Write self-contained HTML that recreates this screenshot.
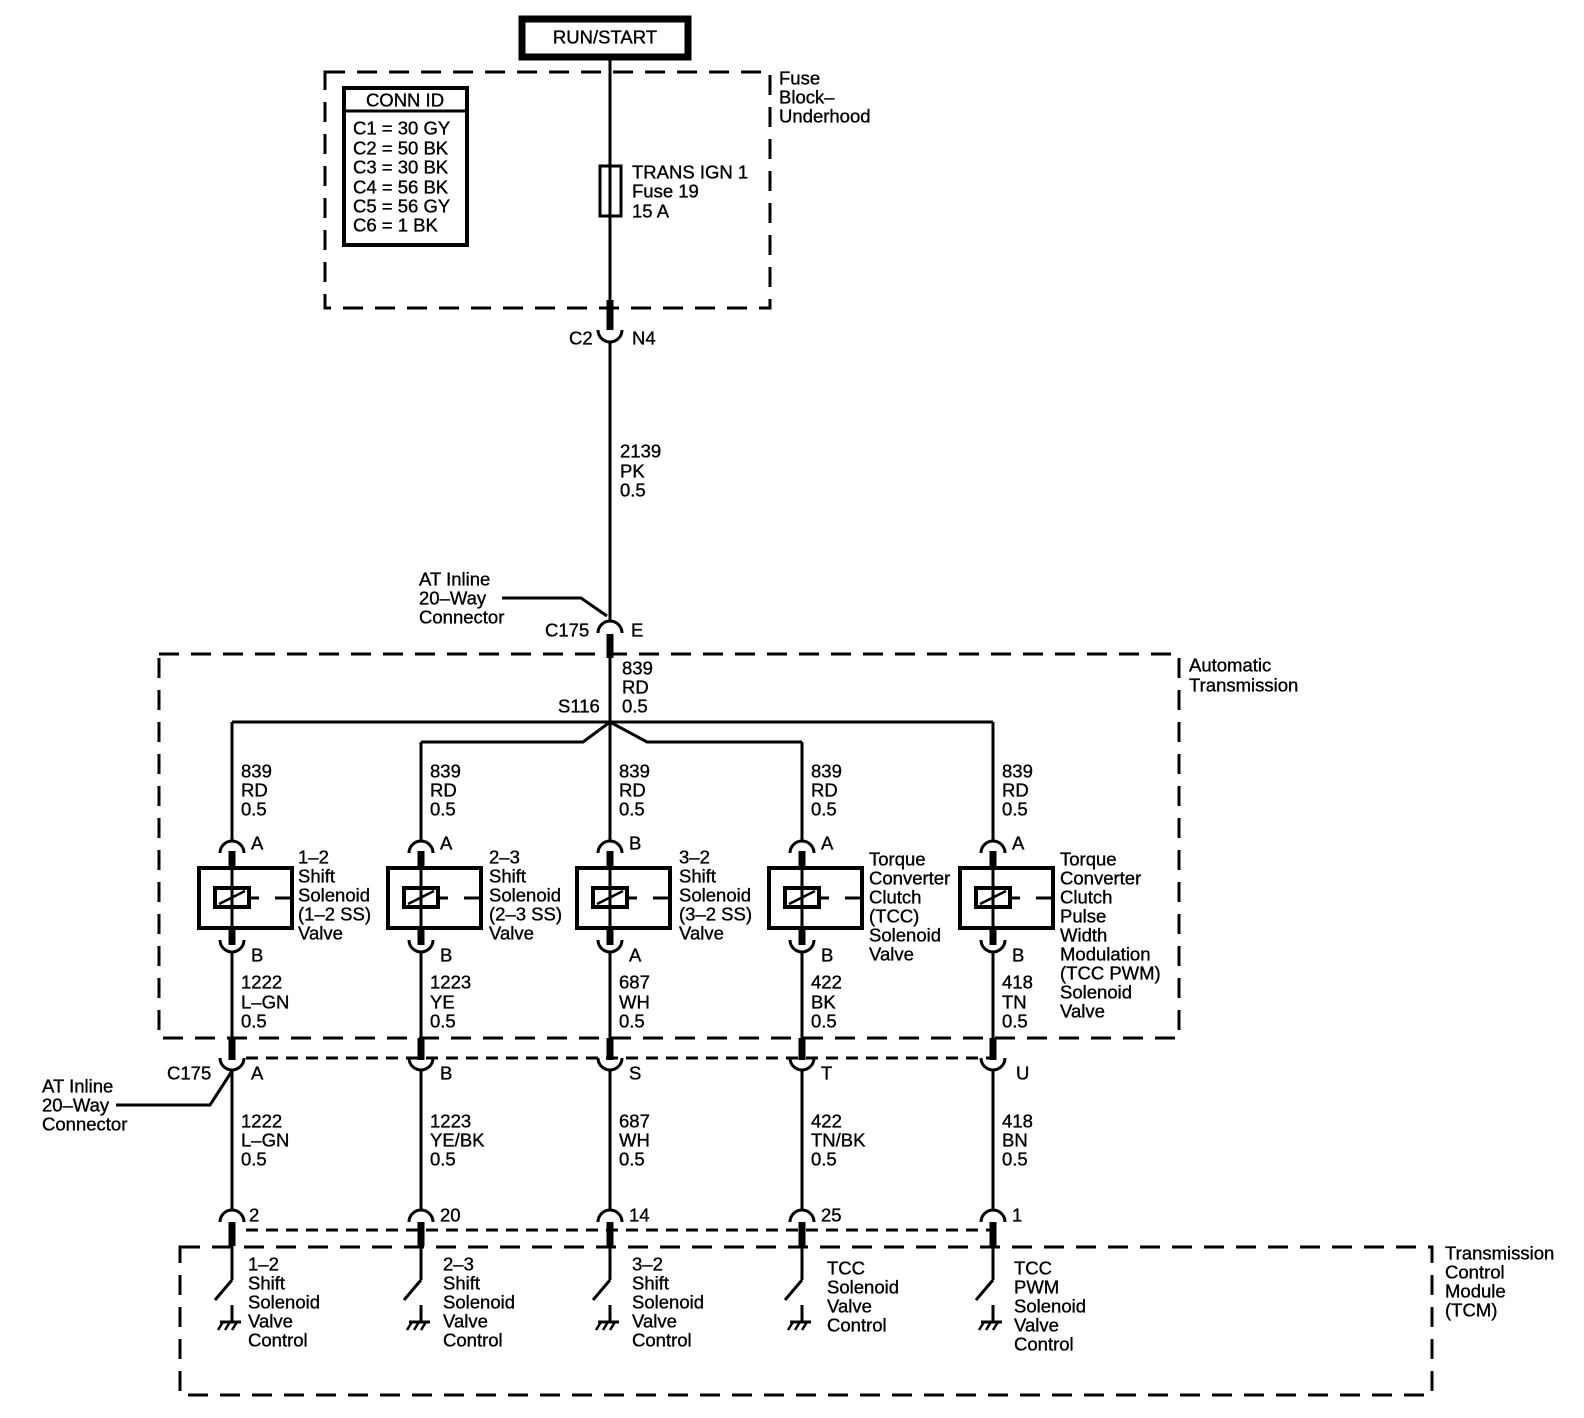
<!DOCTYPE html>
<html><head><meta charset="utf-8"><style>
html,body{margin:0;padding:0;background:#fff}
svg{display:block}
text{font-family:"Liberation Sans",Arial,sans-serif;font-size:18.5px;fill:#000;stroke:#000;stroke-width:0.35;dominant-baseline:central}
.w{stroke:#000;stroke-width:3;fill:none}
.t{stroke:#000;stroke-width:7;fill:none}
.d{stroke:#000;stroke-width:3;fill:none;stroke-dasharray:20 12}
.d2{stroke:#000;stroke-width:3;fill:none;stroke-dasharray:12 8}
</style></head><body>
<svg width="1584" height="1418" viewBox="0 0 1584 1418" xmlns="http://www.w3.org/2000/svg">
<defs>
<g id="sol">
  <rect x="-33" y="868" width="93" height="60" stroke="#000" stroke-width="4" fill="none"/>
  <rect x="-17" y="888" width="34" height="19" stroke="#000" stroke-width="4" fill="#fff"/>
  <line x1="-13" y1="904" x2="13" y2="891" stroke="#000" stroke-width="2.5"/>
  <line x1="17" y1="898" x2="27" y2="898" stroke="#000" stroke-width="3"/>
  <line x1="43" y1="898" x2="58" y2="898" stroke="#000" stroke-width="3"/>
  <line x1="0" y1="868" x2="0" y2="928" stroke="#000" stroke-width="3"/>
</g>
<g id="col">
  <path class="w" d="M-12 853 A12 12 0 0 1 12 853"/>
  <line class="w" x1="0" y1="742" x2="0" y2="841"/>
  <line class="t" x1="0" y1="851" x2="0" y2="868"/>
  <use href="#sol"/>
  <line class="t" x1="0" y1="928" x2="0" y2="945"/>
  <path class="w" d="M-12 940 A12 12 0 0 0 12 940"/>
  <line class="w" x1="0" y1="952" x2="0" y2="1038"/>
  <line class="t" x1="0" y1="1038" x2="0" y2="1060"/>
  <path class="w" d="M-12 1058 A12 12 0 0 0 12 1058"/>
  <line class="w" x1="0" y1="1070" x2="0" y2="1210"/>
  <path class="w" d="M-12 1222 A12 12 0 0 1 12 1222"/>
  <line class="t" x1="0" y1="1222" x2="0" y2="1246"/>
  <line class="w" x1="0" y1="1246" x2="0" y2="1280"/>
  <line class="w" x1="0" y1="1280" x2="-17" y2="1300"/>
  <line class="w" x1="0" y1="1305" x2="0" y2="1322"/>
  <line class="w" x1="-12" y1="1322" x2="9" y2="1322"/>
  <line stroke="#000" stroke-width="2.5" x1="-9" y1="1322" x2="-14" y2="1330"/>
  <line stroke="#000" stroke-width="2.5" x1="-2" y1="1322" x2="-7" y2="1330"/>
  <line stroke="#000" stroke-width="2.5" x1="5" y1="1322" x2="0" y2="1330"/>
</g>
</defs>

<rect x="522" y="19" width="166" height="38" stroke="#000" stroke-width="7" fill="#fff"/>
<text x="605" y="37" text-anchor="middle">RUN/START</text>

<rect class="d" x="325" y="72" width="445" height="236"/>
<text x="779" y="78">Fuse</text>
<text x="779" y="97">Block–</text>
<text x="779" y="116">Underhood</text>
<rect x="344" y="88" width="123" height="157" stroke="#000" stroke-width="4" fill="none"/>
<line x1="344" y1="111" x2="467" y2="111" stroke="#000" stroke-width="3"/>
<text x="405" y="100" text-anchor="middle">CONN ID</text>
<text x="353" y="128">C1 = 30 GY</text>
<text x="353" y="148">C2 = 50 BK</text>
<text x="353" y="167">C3 = 30 BK</text>
<text x="353" y="187">C4 = 56 BK</text>
<text x="353" y="206">C5 = 56 GY</text>
<text x="353" y="225">C6 =  1 BK</text>

<line class="w" x1="610" y1="57" x2="610" y2="300"/>
<rect x="600" y="166" width="21" height="50" stroke="#000" stroke-width="3" fill="#fff"/>
<line class="w" x1="610" y1="166" x2="610" y2="216"/>
<text x="632" y="172">TRANS IGN 1</text>
<text x="632" y="191">Fuse 19</text>
<text x="632" y="211">15 A</text>

<line class="t" x1="610" y1="300" x2="610" y2="330"/>
<path class="w" d="M598 330 A12 12 0 0 0 622 330"/>
<text x="569" y="338">C2</text>
<text x="632" y="338">N4</text>
<line class="w" x1="610" y1="342" x2="610" y2="621"/>
<text x="620" y="451">2139</text>
<text x="620" y="471">PK</text>
<text x="620" y="490">0.5</text>

<text x="419" y="579">AT Inline</text>
<text x="419" y="598">20–Way</text>
<text x="419" y="617">Connector</text>
<polyline class="w" points="502,598 581,598 607,616"/>
<path class="w" d="M598 633 A12 12 0 0 1 622 633"/>
<line class="t" x1="610" y1="634" x2="610" y2="658"/>
<text x="545" y="630">C175</text>
<text x="631" y="630">E</text>

<rect class="d" x="159" y="654" width="1020" height="384"/>
<text x="1189" y="665">Automatic</text>
<text x="1189" y="685">Transmission</text>
<line class="w" x1="610" y1="658" x2="610" y2="742"/>
<text x="622" y="668">839</text>
<text x="622" y="687">RD</text>
<text x="622" y="706">0.5</text>
<text x="558" y="706">S116</text>
<line class="w" x1="232" y1="722" x2="993" y2="722"/>
<line class="w" x1="232" y1="722" x2="232" y2="742"/>
<line class="w" x1="993" y1="722" x2="993" y2="742"/>
<polyline class="w" points="421,742 583,742 610,722 647,742 802,742"/>

<line class="d2" x1="246" y1="1058" x2="993" y2="1058"/>
<line class="d2" x1="246" y1="1230" x2="993" y2="1230"/>

<rect class="d" x="180" y="1247" width="1252" height="148"/>
<text x="1445" y="1253">Transmission</text>
<text x="1445" y="1272">Control</text>
<text x="1445" y="1291">Module</text>
<text x="1445" y="1310">(TCM)</text>

<use href="#col" x="232"/>
<use href="#col" x="421"/>
<use href="#col" x="610"/>
<use href="#col" x="802"/>
<use href="#col" x="993"/>

<text x="42" y="1086">AT Inline</text>
<text x="42" y="1105">20–Way</text>
<text x="42" y="1124">Connector</text>
<polyline class="w" points="116,1105 210,1105 232,1071"/>
<text x="167" y="1073">C175</text>

<g>
<text x="241" y="771">839</text><text x="241" y="790">RD</text><text x="241" y="809">0.5</text>
<text x="430" y="771">839</text><text x="430" y="790">RD</text><text x="430" y="809">0.5</text>
<text x="619" y="771">839</text><text x="619" y="790">RD</text><text x="619" y="809">0.5</text>
<text x="811" y="771">839</text><text x="811" y="790">RD</text><text x="811" y="809">0.5</text>
<text x="1002" y="771">839</text><text x="1002" y="790">RD</text><text x="1002" y="809">0.5</text>

<text x="251" y="843">A</text><text x="440" y="843">A</text><text x="629" y="843">B</text><text x="821" y="843">A</text><text x="1012" y="843">A</text>
<text x="251" y="955">B</text><text x="440" y="955">B</text><text x="629" y="955">A</text><text x="821" y="955">B</text><text x="1012" y="955">B</text>

<text x="298" y="857">1–2</text><text x="298" y="876">Shift</text><text x="298" y="895">Solenoid</text><text x="298" y="914">(1–2 SS)</text><text x="298" y="933">Valve</text>
<text x="489" y="857">2–3</text><text x="489" y="876">Shift</text><text x="489" y="895">Solenoid</text><text x="489" y="914">(2–3 SS)</text><text x="489" y="933">Valve</text>
<text x="679" y="857">3–2</text><text x="679" y="876">Shift</text><text x="679" y="895">Solenoid</text><text x="679" y="914">(3–2 SS)</text><text x="679" y="933">Valve</text>
<text x="869" y="859">Torque</text><text x="869" y="878">Converter</text><text x="869" y="897">Clutch</text><text x="869" y="916">(TCC)</text><text x="869" y="935">Solenoid</text><text x="869" y="954">Valve</text>
<text x="1060" y="859">Torque</text><text x="1060" y="878">Converter</text><text x="1060" y="897">Clutch</text><text x="1060" y="916">Pulse</text><text x="1060" y="935">Width</text><text x="1060" y="954">Modulation</text><text x="1060" y="973">(TCC PWM)</text><text x="1060" y="992">Solenoid</text><text x="1060" y="1011">Valve</text>

<text x="241" y="982">1222</text><text x="241" y="1002">L–GN</text><text x="241" y="1021">0.5</text>
<text x="430" y="982">1223</text><text x="430" y="1002">YE</text><text x="430" y="1021">0.5</text>
<text x="619" y="982">687</text><text x="619" y="1002">WH</text><text x="619" y="1021">0.5</text>
<text x="811" y="982">422</text><text x="811" y="1002">BK</text><text x="811" y="1021">0.5</text>
<text x="1002" y="982">418</text><text x="1002" y="1002">TN</text><text x="1002" y="1021">0.5</text>

<text x="251" y="1073">A</text><text x="440" y="1073">B</text><text x="629" y="1073">S</text><text x="821" y="1073">T</text><text x="1016" y="1073">U</text>

<text x="241" y="1121">1222</text><text x="241" y="1140">L–GN</text><text x="241" y="1159">0.5</text>
<text x="430" y="1121">1223</text><text x="430" y="1140">YE/BK</text><text x="430" y="1159">0.5</text>
<text x="619" y="1121">687</text><text x="619" y="1140">WH</text><text x="619" y="1159">0.5</text>
<text x="811" y="1121">422</text><text x="811" y="1140">TN/BK</text><text x="811" y="1159">0.5</text>
<text x="1002" y="1121">418</text><text x="1002" y="1140">BN</text><text x="1002" y="1159">0.5</text>

<text x="249" y="1215">2</text><text x="440" y="1215">20</text><text x="629" y="1215">14</text><text x="821" y="1215">25</text><text x="1012" y="1215">1</text>

<text x="248" y="1264">1–2</text><text x="248" y="1283">Shift</text><text x="248" y="1302">Solenoid</text><text x="248" y="1321">Valve</text><text x="248" y="1340">Control</text>
<text x="443" y="1264">2–3</text><text x="443" y="1283">Shift</text><text x="443" y="1302">Solenoid</text><text x="443" y="1321">Valve</text><text x="443" y="1340">Control</text>
<text x="632" y="1264">3–2</text><text x="632" y="1283">Shift</text><text x="632" y="1302">Solenoid</text><text x="632" y="1321">Valve</text><text x="632" y="1340">Control</text>
<text x="827" y="1268">TCC</text><text x="827" y="1287">Solenoid</text><text x="827" y="1306">Valve</text><text x="827" y="1325">Control</text>
<text x="1014" y="1268">TCC</text><text x="1014" y="1287">PWM</text><text x="1014" y="1306">Solenoid</text><text x="1014" y="1325">Valve</text><text x="1014" y="1344">Control</text>
</g>
</svg>
</body></html>
